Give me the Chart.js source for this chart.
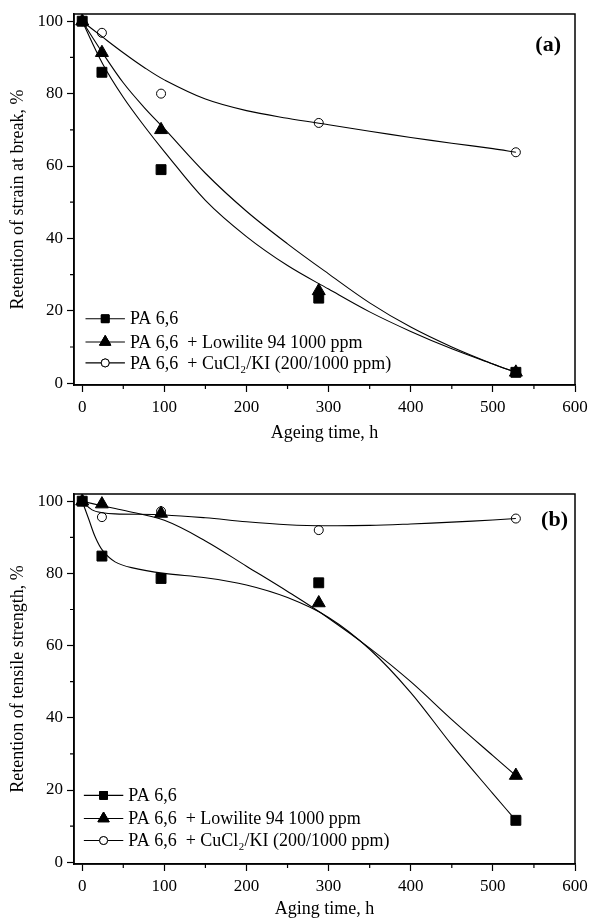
<!DOCTYPE html>
<html><head><meta charset="utf-8">
<script src="https://cdn.jsdelivr.net/npm/chart.js@4.4.1/dist/chart.umd.min.js"></script>
<style>
html,body{margin:0;padding:0;background:#fff;width:589px;height:920px;overflow:hidden}
canvas{position:absolute;left:0}
</style></head>
<body>
<canvas id="ca" width="589" height="450" style="top:0px"></canvas>
<canvas id="cb" width="589" height="440" style="top:480px"></canvas>
<script>
// ---------- data ----------
const seriesLabels = ['PA 6,6', 'PA 6,6  + Lowilite 94 1000 ppm', 'PA 6,6  + CuCl\u2082/KI (200/1000 ppm)'];
const xTicks = [0, 100, 200, 300, 400, 500, 600];
const yTicks = [0, 20, 40, 60, 80, 100];

// Panel (a) – retention of strain at break
const hoursA = [0, 24, 96, 288, 528];
const pa66A = [100, 85.9, 59.0, 23.5, 3.0];
const lowiliteA = [100, 91.3, 70.0, 25.5, 3.0];
const cuclA = [100, 96.8, 80.0, 71.9, 63.8];
// fitted curves (a)
const fitHoursPa66A = [0, 25, 50, 75, 100, 150, 200, 250, 300, 350, 400, 450, 500, 528];
const fitPa66A = [100, 88.2, 79, 71.2, 64, 50.5, 40.5, 32.5, 26, 19.7, 14.3, 9.5, 5.3, 3];
const fitHoursLowA = [0, 25, 50, 75, 100, 150, 200, 250, 300, 350, 400, 450, 500, 528];
const fitLowA = [100, 91.2, 83, 76.3, 70.3, 58, 47.5, 38.5, 30.2, 22.2, 15.5, 10, 5.3, 3];
const fitHoursCuA = [0, 25, 50, 75, 100, 150, 200, 250, 300, 350, 400, 450, 500, 528];
const fitCuA = [100, 95.6, 91.3, 87.3, 83.8, 78.5, 75.3, 73.2, 71.4, 69.6, 67.9, 66.3, 64.8, 63.8];

// Panel (b) – retention of tensile strength
const hoursB = [0, 24, 96, 288, 528];
const pa66B = [100, 84.8, 78.6, 77.4, 11.6];
const lowiliteB = [100, 99.2, 96.6, 71.8, 24.0];
const cuclB = [100, 95.6, 97.2, 92.0, 95.2];
// fitted curves (b)
const fitHoursPa66B = [0, 8, 16, 25, 40, 60, 100, 150, 200, 250, 300, 350, 400, 450, 500, 528];
const fitPa66B = [100, 95, 90, 86.3, 83.2, 81.6, 80, 78.8, 76.8, 73.3, 67.8, 59, 47, 32.5, 19, 11.6];
const fitHoursLowB = [0, 25, 50, 100, 150, 200, 250, 300, 350, 400, 450, 500, 528];
const fitLowB = [100, 98.7, 97.5, 94.7, 89, 82, 75, 67.6, 59.3, 50, 39.5, 29.5, 24];
const fitHoursCuB = [0, 12, 25, 40, 100, 150, 200, 250, 300, 350, 400, 450, 500, 528];
const fitCuB = [100, 97.6, 96.8, 96.5, 96.2, 95.4, 94.3, 93.5, 93.2, 93.3, 93.7, 94.2, 94.8, 95.2];

// ---------- helpers ----------
const FONT = "'Liberation Serif', 'Times New Roman', serif";
const styles = [
  {pointStyle: 'rect', radius: 7, fill: '#000', legendRadius: 5.5},
  {pointStyle: 'triangle', radius: 7.5, fill: '#000', legendRadius: 6.5},
  {pointStyle: 'circle', radius: 4.5, fill: '#fff', legendRadius: 4}
];
function pts(xs, ys){ return xs.map((x,i)=>({x:x, y:ys[i]})); }

function buildDatasets(hours, series, fits){
  const ds = [];
  fits.forEach((f)=>{
    ds.push({type:'scatter', data: pts(f[0], f[1]), showLine:true, borderColor:'#000', borderWidth:1.1,
      pointRadius:0, pointHoverRadius:0, tension:0.35, fill:false, isFit:true});
  });
  series.forEach((s,i)=>{
    ds.push({type:'scatter', label: seriesLabels[i], data: pts(hours, s), showLine:false,
      pointStyle: styles[i].pointStyle, pointRadius: styles[i].radius,
      backgroundColor: styles[i].fill, borderColor:'#000', borderWidth: 1, seriesIndex:i});
  });
  return ds;
}

const framePlugin = {
  id:'frame',
  afterDraw(chart, args, opts){
    const {ctx, chartArea:a, scales:{x, y}} = chart;
    ctx.save();
    ctx.strokeStyle = '#000'; ctx.lineWidth = 1.5;
    ctx.strokeRect(a.left, a.top, a.right - a.left, a.bottom - a.top);
    // minor ticks
    ctx.lineWidth = 1.2;
    ctx.beginPath();
    for (let i = 0; i < xTicks.length - 1; i++){
      const v = (xTicks[i] + xTicks[i+1]) / 2;
      const px = x.getPixelForValue(v);
      ctx.moveTo(px, a.bottom); ctx.lineTo(px, a.bottom + 4);
    }
    for (let i = 0; i < yTicks.length - 1; i++){
      const v = (yTicks[i] + yTicks[i+1]) / 2;
      const py = y.getPixelForValue(v);
      ctx.moveTo(a.left, py); ctx.lineTo(a.left - 4, py);
    }
    ctx.stroke();
    // panel tag
    ctx.fillStyle = '#000';
    ctx.font = 'bold 22px ' + FONT;
    ctx.textAlign = 'right'; ctx.textBaseline = 'middle';
    ctx.fillText(opts.tag, opts.tagX, opts.tagY);
    // legend
    const lx0 = x.getPixelForValue(opts.legendX0), lx1 = x.getPixelForValue(opts.legendX1);
    const mx = (lx0 + lx1) / 2;
    ctx.font = '18px ' + FONT;
    ctx.textAlign = 'left';
    chart.data.datasets.filter(d=>!d.isFit).forEach((d, i)=>{
      const ly = y.getPixelForValue(opts.legendY[i]);
      ctx.beginPath(); ctx.lineWidth = 1.1; ctx.strokeStyle = '#000';
      ctx.moveTo(lx0, ly); ctx.lineTo(lx1, ly); ctx.stroke();
      ctx.lineWidth = 1;
      ctx.fillStyle = d.backgroundColor;
      Chart.helpers.drawPoint(ctx, {pointStyle: d.pointStyle, radius: styles[d.seriesIndex].legendRadius, borderWidth: 1, rotation:0}, mx, ly);
      ctx.fill(); ctx.stroke();
      ctx.fillStyle = '#000';
      ctx.fillText(d.label, lx1 + 5, ly + 1);
    });
    ctx.restore();
  }
};

function makeChart(id, datasets, xTitle, yTitle, xH, titlePad, tagOpts){
  return new Chart(document.getElementById(id), {
    type:'scatter',
    data:{datasets},
    options:{
      responsive:false, animation:false, devicePixelRatio:1,
      layout:{padding:{left:0, right:14, top:14, bottom:0}},
      plugins:{legend:{display:false}, tooltip:{enabled:false}, frame: tagOpts},
      scales:{
        x:{type:'linear', min:-10, max:600,
          afterBuildTicks(s){ s.ticks = xTicks.map(v=>({value:v})); },
          afterFit(s){ s.height = xH; s.paddingLeft = 0; s.paddingRight = 0; },
          ticks:{font:{family:FONT, size:17}, color:'#000', padding:5, maxRotation:0},
          grid:{drawOnChartArea:false, drawTicks:true, tickLength:7, tickColor:'#000', tickWidth:1.2},
          border:{color:'#000', width:1.5},
          title:{display:true, text:xTitle, color:'#000', font:{family:FONT, size:18}, padding:{top:0, bottom:titlePad}}
        },
        y:{type:'linear', min:-0.5, max:102,
          afterBuildTicks(s){ s.ticks = yTicks.map(v=>({value:v})); },
          afterFit(s){ s.width = 74; s.paddingTop = 0; s.paddingBottom = 0; },
          ticks:{font:{family:FONT, size:17}, color:'#000', padding:4},
          grid:{drawOnChartArea:false, drawTicks:true, tickLength:7, tickColor:'#000', tickWidth:1.2},
          border:{color:'#000', width:1.5},
          title:{display:true, text:yTitle, color:'#000', font:{family:FONT, size:18}, padding:{top:7, bottom:0}}
        }
      }
    },
    plugins:[framePlugin]
  });
}

makeChart('ca',
  buildDatasets(hoursA, [pa66A, lowiliteA, cuclA], [[fitHoursPa66A, fitPa66A],[fitHoursLowA, fitLowA],[fitHoursCuA, fitCuA]]),
  'Ageing time, h', 'Retention of strain at break, %', 65, 6,
  {tag:'(a)', tagX:561, tagY:45, legendX0:4, legendX1:52, legendY:[17.8, 11.4, 5.6]});

makeChart('cb',
  buildDatasets(hoursB, [pa66B, lowiliteB, cuclB], [[fitHoursPa66B, fitPa66B],[fitHoursLowB, fitLowB],[fitHoursCuB, fitCuB]]),
  'Aging time, h', 'Retention of tensile strength, %', 56, 0,
  {tag:'(b)', tagX:568, tagY:40, legendX0:2, legendX1:50, legendY:[18.5, 12.1, 6.0]});
</script>
</body></html>
